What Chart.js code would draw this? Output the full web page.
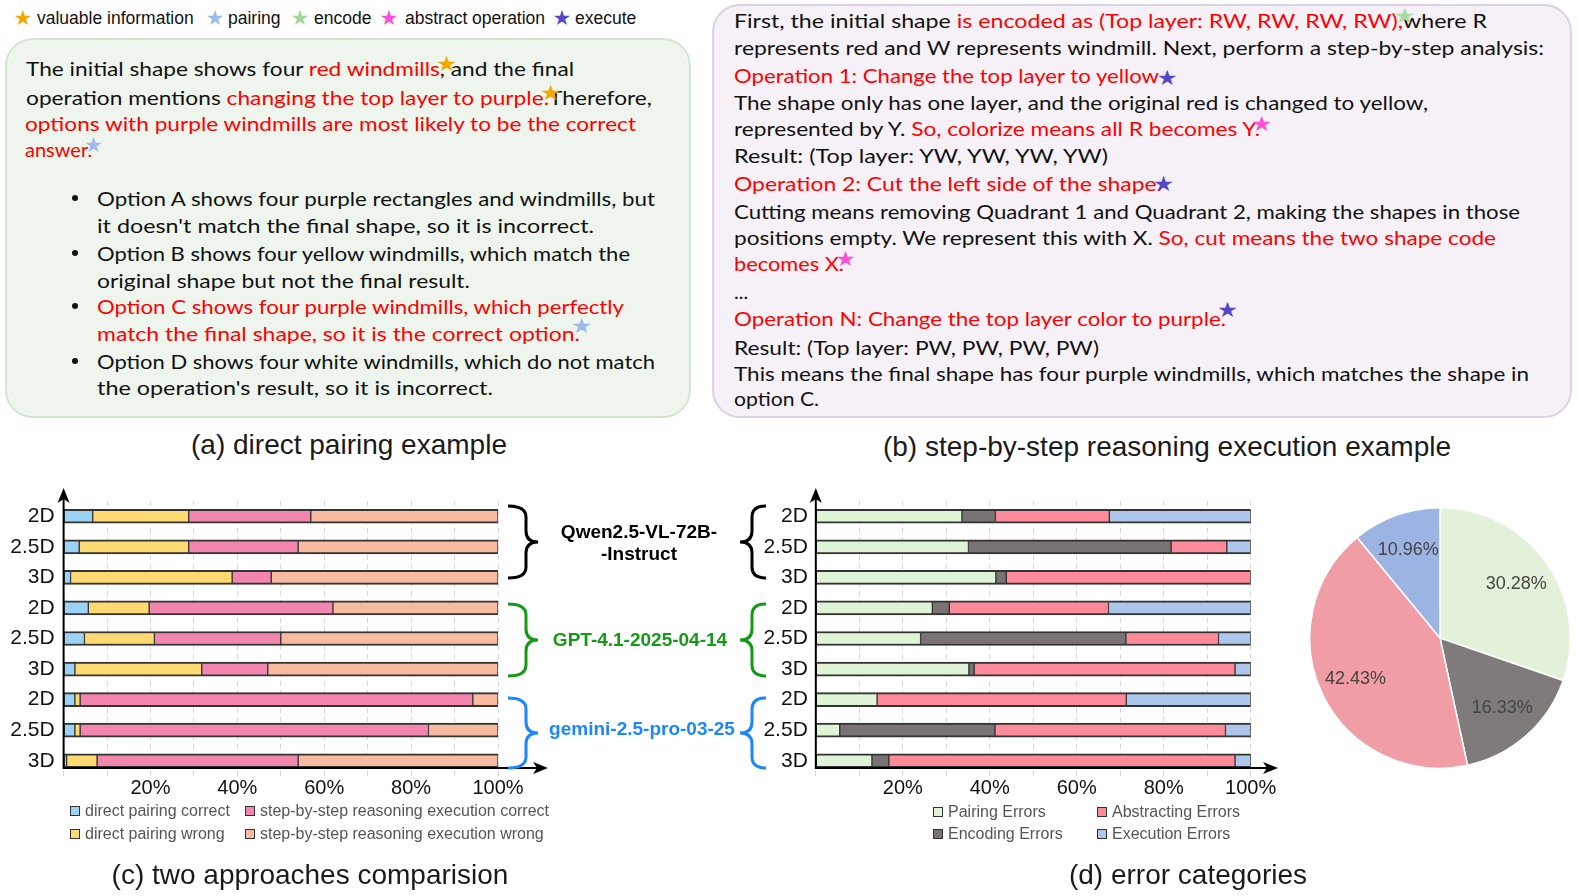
<!DOCTYPE html>
<html>
<head>
<meta charset="utf-8">
<script src="https://cdn.jsdelivr.net/npm/chart.js@4.4.1/dist/chart.umd.min.js"></script>
<style>
  html, body { margin: 0; padding: 0; background: #fff; }
  body { width: 1578px; height: 896px; position: relative; overflow: hidden; font-family: "Liberation Sans", Arial, sans-serif; }
  .box { position: absolute; border-radius: 28px; box-sizing: border-box; }
  .ln { position: absolute; white-space: nowrap; font-family: Lato, sans-serif; font-size: 20px; line-height: 26px; color: #111; transform-origin: left center; }
  .r { color: #f00; }
  .st { display: inline-block; width: 0; position: relative; left: -8px; top: -5px; font-family: "DejaVu Sans"; font-size: 21px; line-height: 1; }
  .dot { position: absolute; width: 6px; height: 6px; border-radius: 3px; background: #111; }
  .cap { position: absolute; font-size: 28px; color: #1a1a1a; white-space: nowrap; transform: translate(-50%, -50%); }
  .grp { position: absolute; font-size: 19px; font-weight: bold; white-space: nowrap; transform: translate(-50%, -50%); text-align: center; line-height: 22px; }
  .leg { position: absolute; font-size: 16px; color: #555; white-space: nowrap; }
  .leg i { position: absolute; left: 0; top: -5px; width: 10px; height: 10px; box-sizing: border-box; border: 1.5px solid #333; }
  .leg span { position: absolute; left: 15px; top: -10px; line-height: 20px; }
  .kt { position: absolute; top: 18px; transform: translateY(-50%); font-size: 17.5px; color: #111; white-space: nowrap; }
  .ks { position: absolute; top: 18px; transform: translate(-50%, -50%); font-family: "DejaVu Sans"; font-size: 21px; }
  canvas { position: absolute; }
</style>
</head>
<body>

<!-- star key -->
<div class="ks" style="left:23px;color:#F5A500">★</div><div class="kt" style="left:37px">valuable information</div>
<div class="ks" style="left:215px;color:#9DBBEA">★</div><div class="kt" style="left:228px">pairing</div>
<div class="ks" style="left:300px;color:#9FD69A">★</div><div class="kt" style="left:314px">encode</div>
<div class="ks" style="left:389px;color:#FF4FD6">★</div><div class="kt" style="left:405px">abstract operation</div>
<div class="ks" style="left:562px;color:#5548C8">★</div><div class="kt" style="left:575px">execute</div>

<!-- (a) -->
<div class="box" style="left:5px;top:38px;width:686px;height:380px;background:#EEF5ED;border:2px solid #D3E6CF"></div>
<div id="boxA">
  <div class="ln" data-end="574" style="left:26px;top:55px">The initial shape shows four <span class="r">red windmills</span>,<span class="st" style="color:#F5A500">★</span> and the final</div>
  <div class="ln" data-end="652" style="left:26px;top:84px">operation mentions <span class="r">changing the top layer to purple.</span><span class="st" style="color:#F5A500">★</span>Therefore,</div>
  <div class="ln" data-end="636" style="left:25px;top:110px"><span class="r">options with purple windmills are most likely to be the correct</span></div>
  <div class="ln" style="left:25px;top:136px"><span class="r">answer.</span><span class="st" style="color:#9DBBEA">★</span></div>
  <div class="dot" style="left:72px;top:195px"></div>
  <div class="ln" data-end="655" style="left:97px;top:185px">Option A shows four purple rectangles and windmills, but</div>
  <div class="ln" data-end="594" style="left:97px;top:212px">it doesn't match the final shape, so it is incorrect.</div>
  <div class="dot" style="left:72px;top:250px"></div>
  <div class="ln" data-end="630" style="left:97px;top:240px">Option B shows four yellow windmills, which match the</div>
  <div class="ln" data-end="470" style="left:97px;top:267px">original shape but not the final result.</div>
  <div class="dot" style="left:72px;top:303px"></div>
  <div class="ln" data-end="624" style="left:97px;top:293px"><span class="r">Option C shows four purple windmills, which perfectly</span></div>
  <div class="ln" data-end="580" style="left:97px;top:320px"><span class="r">match the final shape, so it is the correct option.</span><span class="st" style="color:#9DBBEA;top:-8px">★</span></div>
  <div class="dot" style="left:72px;top:358px"></div>
  <div class="ln" data-end="655" style="left:97px;top:348px">Option D shows four white windmills, which do not match</div>
  <div class="ln" data-end="493" style="left:97px;top:374px">the operation's result, so it is incorrect.</div>
</div>
<div class="cap" style="left:349px;top:445px">(a) direct pairing example</div>

<!-- (b) -->
<div class="box" style="left:712px;top:4px;width:860px;height:414px;background:#F5F1F7;border:2px solid #DAD1E2"></div>
<div id="boxB">
  <div class="ln" data-end="1487" style="left:734px;top:7px">First, the initial shape <span class="r">is encoded as (Top layer: RW, RW, RW, RW),</span><span class="st" style="color:#A8DCA3">★</span>where R</div>
  <div class="ln" data-end="1544" style="left:734px;top:34px">represents red and W represents windmill. Next, perform a step-by-step analysis:</div>
  <div class="ln" data-end="1159" style="left:734px;top:62px"><span class="r">Operation 1: Change the top layer to yellow</span><span class="st" style="color:#5548C8;left:-2px;top:2px">★</span></div>
  <div class="ln" data-end="1428" style="left:734px;top:89px">The shape only has one layer, and the original red is changed to yellow,</div>
  <div class="ln" data-end="1260" style="left:734px;top:115px">represented by Y. <span class="r">So, colorize means all R becomes Y.</span><span class="st" style="color:#FF4FD6">★</span></div>
  <div class="ln" data-end="1108" style="left:734px;top:142px">Result: (Top layer: YW, YW, YW, YW)</div>
  <div class="ln" data-end="1162" style="left:734px;top:170px"><span class="r">Operation 2: Cut the left side of the shape.</span><span class="st" style="color:#5548C8;top:0">★</span></div>
  <div class="ln" data-end="1520" style="left:734px;top:198px">Cutting means removing Quadrant 1 and Quadrant 2, making the shapes in those</div>
  <div class="ln" data-end="1496" style="left:734px;top:224px">positions empty. We represent this with X. <span class="r">So, cut means the two shape code</span></div>
  <div class="ln" data-end="844" style="left:734px;top:250px"><span class="r">becomes X.</span><span class="st" style="color:#FF4FD6">★</span></div>
  <div class="ln" style="left:734px;top:278px">...</div>
  <div class="ln" data-end="1226" style="left:734px;top:305px"><span class="r">Operation N: Change the top layer color to purple.</span><span class="st" style="color:#5548C8;top:-9px">★</span></div>
  <div class="ln" data-end="1099" style="left:734px;top:334px">Result: (Top layer: PW, PW, PW, PW)</div>
  <div class="ln" data-end="1529" style="left:734px;top:360px">This means the final shape has four purple windmills, which matches the shape in</div>
  <div class="ln" data-end="819" style="left:734px;top:385px">option C.</div>
</div>
<div class="cap" style="left:1167px;top:447px">(b) step-by-step reasoning execution example</div>

<!-- (c) / (d) charts -->
<canvas id="cmp" width="560" height="330" style="left:0;top:470px"></canvas>
<canvas id="err" width="560" height="330" style="left:740px;top:470px"></canvas>
<canvas id="pie" width="262" height="262" style="left:1309px;top:507px"></canvas>

<svg id="braces" width="1578" height="896" style="position:absolute;left:0;top:0;pointer-events:none"></svg>

<div class="grp" style="left:639px;top:543px;color:#000">Qwen2.5-VL-72B-<br>-Instruct</div>
<div class="grp" style="left:640px;top:640px;color:#149A14">GPT-4.1-2025-04-14</div>
<div class="grp" style="left:642px;top:729px;color:#1B87FF">gemini-2.5-pro-03-25</div>

<div id="legC"></div>
<div id="legD"></div>

<div class="cap" style="left:310px;top:875px">(c) two approaches comparision</div>
<div class="cap" style="left:1188px;top:875px">(d) error categories</div>

<script>
// ---- data ----
const rowLabels = ["2D", "2.5D", "3D", "2D", "2.5D", "3D", "2D", "2.5D", "3D"];
const xTickLabels = [20, 40, 60, 80, 100];

// (c) two approaches comparison, % of samples (Qwen rows, GPT rows, gemini rows)
const approachNames = ["direct pairing correct", "direct pairing wrong",
  "step-by-step reasoning execution correct", "step-by-step reasoning execution wrong"];
const pairingCorrect = [6.7, 3.6, 1.6, 5.7, 4.8, 2.6, 2.6, 2.6, 0.7];
const pairingWrong = [22.1, 25.2, 37.2, 14.0, 16.1, 29.2, 1.2, 1.2, 7.0];
const stepCorrect = [28.1, 25.2, 9.0, 42.3, 29.1, 15.2, 90.4, 80.2, 46.3];
const stepWrong = [43.1, 46.0, 52.2, 38.0, 50.0, 53.0, 5.8, 16.0, 46.0];

// (d) error categories, % of errors
const errorNames = ["Pairing Errors", "Encoding Errors", "Abstracting Errors", "Execution Errors"];
const pairingErr = [33.6, 35.1, 41.4, 26.8, 24.1, 35.2, 14.1, 5.5, 12.9];
const encodingErr = [7.7, 46.6, 2.4, 3.9, 47.2, 1.2, 0, 35.7, 3.9];
const abstractErr = [26.2, 12.8, 56.2, 36.6, 21.3, 60.0, 57.3, 53.0, 79.6];
const executionErr = [32.5, 5.5, 0, 32.7, 7.4, 3.6, 28.6, 5.8, 3.6];

// pie: overall share of each error type
const pieShares = [30.28, 16.33, 42.43, 10.96];

const approachColors = ["#9CD2F4", "#FFDA72", "#F286AE", "#F8BBA2"];
const errorColors = ["#DFF3D7", "#7A7373", "#FF8B9A", "#AFC6EC"];
const pieColors = ["#E3F1DB", "#7F7B7B", "#F09DA5", "#9BB4E4"];

// stretch each hand-written text line so it ends where the reference line ends
document.querySelectorAll(".ln[data-end]").forEach(el => {
  const left = parseFloat(el.style.left);
  const w = el.getBoundingClientRect().width;
  el.style.transform = "scaleX(" + ((+el.dataset.end - left) / w) + ")";
});

// axis lines with arrow heads
const axisArrows = {
  id: "axisArrows",
  afterDraw(chart, args, opts) {
    const { ctx, chartArea } = chart;
    const x0 = chartArea.left;
    const y0 = chartArea.bottom - opts.lift;
    ctx.save();
    ctx.strokeStyle = "#000";
    ctx.fillStyle = "#000";
    ctx.lineWidth = 2;
    ctx.beginPath();
    ctx.moveTo(x0, y0 + 1);
    ctx.lineTo(x0, opts.top + 8);
    ctx.moveTo(x0 - 1, y0);
    ctx.lineTo(opts.right - 8, y0);
    ctx.stroke();
    ctx.beginPath();
    ctx.moveTo(x0, opts.top);
    ctx.lineTo(x0 - 6, opts.top + 15);
    ctx.lineTo(x0, opts.top + 11);
    ctx.lineTo(x0 + 6, opts.top + 15);
    ctx.closePath();
    ctx.fill();
    ctx.beginPath();
    ctx.moveTo(opts.right, y0);
    ctx.lineTo(opts.right - 15, y0 - 6);
    ctx.lineTo(opts.right - 11, y0);
    ctx.lineTo(opts.right - 15, y0 + 6);
    ctx.closePath();
    ctx.fill();
    ctx.restore();
  }
};

function stackedBars(id, names, series, colors, yWidth, yPad, padRight, arrowRight) {
  return new Chart(document.getElementById(id), {
    type: "bar",
    data: {
      labels: rowLabels,
      datasets: series.map((d, i) => ({
        label: names[i],
        data: d,
        backgroundColor: colors[i],
        borderColor: "#333",
        borderWidth: { top: 2, bottom: 2, left: 1, right: 1 },
        borderSkipped: false,
        barThickness: 14
      }))
    },
    options: {
      indexAxis: "y",
      responsive: false,
      animation: false,
      events: [],
      layout: { padding: { top: 31, right: padRight, left: 0, bottom: 0 } },
      plugins: {
        legend: { display: false },
        tooltip: { enabled: false },
        axisArrows: { top: 18, right: arrowRight, lift: 8 }
      },
      scales: {
        x: {
          stacked: true,
          min: 0,
          max: 100,
          grid: { color: "#d6d6d6", lineWidth: 1, drawTicks: false },
          border: { display: false, dash: [5, 4] },
          ticks: {
            stepSize: 10,
            autoSkip: false,
            maxRotation: 0,
            padding: 0,
            color: "#111",
            font: { size: 20, family: "Liberation Sans" },
            callback: v => xTickLabels.includes(v) ? v + "%" : ""
          },
          afterFit: s => { s.height = 24; }
        },
        y: {
          stacked: true,
          grid: { display: false, drawTicks: false },
          border: { display: false },
          ticks: { padding: yPad, color: "#111", font: { size: 21, family: "Liberation Sans" } },
          afterFit: s => { s.width = yWidth; }
        }
      }
    },
    plugins: [axisArrows]
  });
}

stackedBars("cmp", approachNames, [pairingCorrect, pairingWrong, stepCorrect, stepWrong],
  approachColors, 63.6, 9, 62, 548);
stackedBars("err", errorNames, [pairingErr, encodingErr, abstractErr, executionErr],
  errorColors, 75.8, 8, 49.3, 538);

// percentage labels inside the pie slices
const pieLabels = {
  id: "pieLabels",
  afterDatasetsDraw(chart) {
    const { ctx } = chart;
    const meta = chart.getDatasetMeta(0);
    ctx.save();
    ctx.font = '18px "Liberation Sans"';
    ctx.fillStyle = "#444";
    ctx.textAlign = "center";
    ctx.textBaseline = "middle";
    meta.data.forEach((arc, i) => {
      const p = arc.getProps(["x", "y", "startAngle", "endAngle", "outerRadius"], true);
      const mid = (p.startAngle + p.endAngle) / 2;
      const d = p.outerRadius * 0.72;
      ctx.fillText(pieShares[i].toFixed(2) + "%", p.x + Math.cos(mid) * d, p.y + Math.sin(mid) * d);
    });
    ctx.restore();
  }
};

new Chart(document.getElementById("pie"), {
  type: "pie",
  data: {
    labels: errorNames,
    datasets: [{ data: pieShares, backgroundColor: pieColors, borderColor: "#fff", borderWidth: 1.5 }]
  },
  options: {
    responsive: false,
    animation: false,
    events: [],
    plugins: { legend: { display: false }, tooltip: { enabled: false } }
  },
  plugins: [pieLabels]
});

// html legends under the bar charts
function legend(id, names, colors, spots) {
  const host = document.getElementById(id);
  names.forEach((n, i) => {
    const d = document.createElement("div");
    d.className = "leg";
    d.style.left = spots[i][0] + "px";
    d.style.top = spots[i][1] + "px";
    d.innerHTML = '<i style="background:' + colors[i] + '"></i><span>' + n + "</span>";
    host.appendChild(d);
  });
}
legend("legC", approachNames, approachColors, [[70, 811], [70, 834], [245, 811], [245, 834]]);
legend("legD", errorNames, errorColors, [[933, 812], [933, 834], [1097, 812], [1097, 834]]);

// model group braces
function brace(x0, xm, x1, y0, y1, color) {
  const ym = (y0 + y1) / 2, r = 11;
  const d = "M" + x0 + " " + y0 + " Q" + xm + " " + y0 + " " + xm + " " + (y0 + r) +
    " L" + xm + " " + (ym - r) + " Q" + xm + " " + ym + " " + x1 + " " + ym +
    " Q" + xm + " " + ym + " " + xm + " " + (ym + r) +
    " L" + xm + " " + (y1 - r) + " Q" + xm + " " + y1 + " " + x0 + " " + y1;
  return '<path d="' + d + '" fill="none" stroke="' + color + '" stroke-width="3"/>';
}
const groupColors = ["#000", "#149A14", "#1B87FF"];
const groupSpans = [[506, 578], [604, 676], [698, 768]];
let svg = "";
groupSpans.forEach((s, i) => {
  svg += brace(508, 526, 538, s[0], s[1], groupColors[i]);
  svg += brace(766, 752, 740, s[0], s[1], groupColors[i]);
});
document.getElementById("braces").innerHTML = svg;
</script>
</body>
</html>
